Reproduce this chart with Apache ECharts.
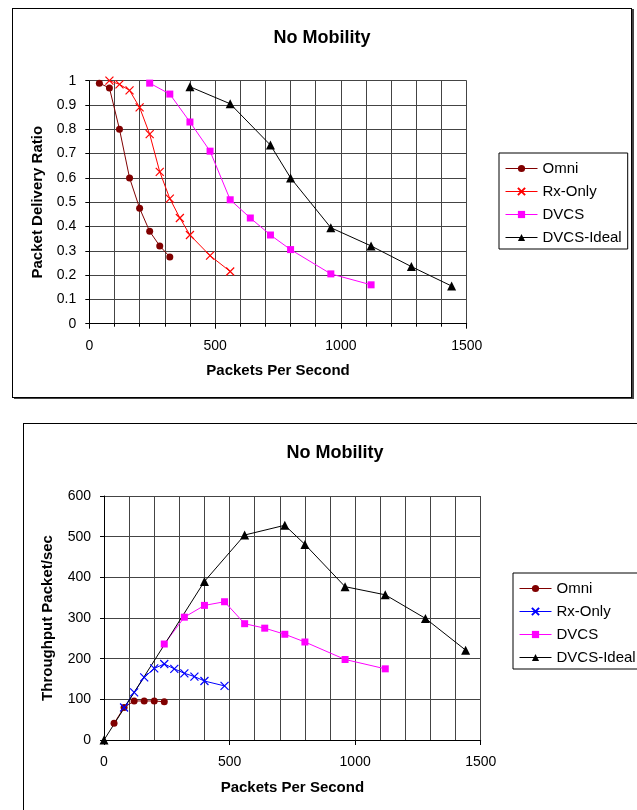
<!DOCTYPE html>
<html>
<head>
<meta charset="utf-8">
<title>No Mobility</title>
<script src="https://cdn.jsdelivr.net/npm/echarts@6/dist/echarts.min.js"></script>
<style>
html, body {
  margin: 0;
  padding: 0;
  width: 637px;
  height: 810px;
  overflow: hidden;
  background: #fff;
}
.com-container {
  position: absolute;
  box-sizing: border-box;
  border: 1px solid #000;
  background: #fff;
}
.com-chart {
  width: 100%;
  height: 100%;
}
#box_pdr {
  left: 12px;
  top: 8px;
  width: 620px;
  height: 390px;
  box-shadow: 2px 1px 0 #444;
}
#box_thr {
  left: 23px;
  top: 423px;
  width: 624px;
  height: 400px;
}
</style>
</head>
<body>
<div class="com-container" id="box_pdr"><div class="com-chart" id="pdr_ref"></div></div>
<div class="com-container" id="box_thr"><div class="com-chart" id="thr_ref"></div></div>

<script>
// packet delivery ratio (top chart)
const omniPdrX = [40, 80, 120, 160, 200, 240, 280, 320]
const omniPdr = [0.99, 0.97, 0.80, 0.60, 0.475, 0.38, 0.32, 0.275]
const rxPdrX = [80, 120, 160, 200, 240, 280, 320, 360, 400, 480, 560]
const rxPdr = [1.0, 0.985, 0.96, 0.89, 0.78, 0.625, 0.515, 0.435, 0.365, 0.28, 0.215]
const dvcsPdrX = [240, 320, 400, 480, 560, 640, 720, 800, 960, 1120]
const dvcsPdr = [0.99, 0.945, 0.83, 0.71, 0.51, 0.435, 0.365, 0.305, 0.205, 0.16]
const idealPdrX = [400, 560, 720, 800, 960, 1120, 1280, 1440]
const idealPdr = [0.975, 0.905, 0.735, 0.60, 0.395, 0.32, 0.235, 0.155]

// throughput (bottom chart)
const omniThrX = [40, 80, 120, 160, 200, 240]
const omniThr = [41, 80, 96, 96, 96, 94]
const rxThrX = [80, 120, 160, 200, 240, 280, 320, 360, 400, 480]
const rxThr = [80, 117, 154, 176, 187, 175, 164, 156, 145, 133]
const dvcsThrX = [240, 320, 400, 480, 560, 640, 720, 800, 960, 1120]
const dvcsThr = [236, 302, 331, 340, 286, 275, 260, 241, 198, 175]
const idealThrX = [0, 400, 560, 720, 800, 960, 1120, 1280, 1440]
const idealThr = [0, 390, 504, 528, 481, 377, 357, 299, 221]

const seriesNames = ['Omni', 'Rx-Only', 'DVCS', 'DVCS-Ideal']
const FONT = '"Liberation Sans", Arial, sans-serif'
const CROSS = 'path://M0,0L10,10M0,10L10,0'

function lineSeries (name, xs, ys, color, symbol, size) {
  return {
    name: name,
    type: 'line',
    data: xs.map((x, i) => [x, ys[i]]),
    symbol: symbol,
    symbolSize: size,
    showSymbol: true,
    lineStyle: { color: color, width: 1 },
    itemStyle: {
      color: color,
      borderColor: color,
      borderWidth: symbol === CROSS ? 1.2 : 0
    },
    emphasis: { disabled: true }
  }
}

function buildOption (cfg) {
  return {
    animation: false,
    textStyle: { fontFamily: FONT },
    title: {
      text: 'No Mobility',
      left: cfg.titleLeft,
      top: 15,
      textStyle: { fontSize: 18, fontWeight: 'bold', color: '#000', fontFamily: FONT }
    },
    legend: {
      data: seriesNames,
      orient: 'vertical',
      left: cfg.legendLeft,
      top: cfg.legendTop,
      padding: [8, 6, 4, 6],
      borderColor: '#000',
      borderWidth: 1,
      itemWidth: 32,
      itemHeight: 9,
      itemGap: 8,
      itemTextGap: 3,
      lineStyle: { width: 1 },
      textStyle: { fontSize: 15, color: '#000', fontFamily: FONT }
    },
    grid: cfg.grid,
    xAxis: {
      type: 'value',
      min: 0,
      max: 1500,
      interval: 500,
      name: 'Packets Per Second',
      nameLocation: 'middle',
      nameGap: 40,
      nameTextStyle: { fontSize: 15, fontWeight: 'bold', color: '#000', fontFamily: FONT },
      axisLine: { show: true, lineStyle: { color: '#000', width: 1 } },
      axisTick: { show: true, length: 5, lineStyle: { color: '#000' } },
      minorTick: { show: cfg.minorTicks, splitNumber: 5, length: 3, lineStyle: { color: '#000' } },
      axisLabel: {
        fontSize: 14,
        color: '#000',
        margin: 15,
        fontFamily: FONT,
        formatter: v => String(v)
      },
      splitLine: { show: true, lineStyle: { color: '#444', width: 1 } },
      minorSplitLine: { show: true, lineStyle: { color: '#444', width: 1 } }
    },
    yAxis: {
      type: 'value',
      min: 0,
      max: cfg.yMax,
      interval: cfg.yInterval,
      name: cfg.yName,
      nameLocation: 'middle',
      nameGap: cfg.yNameGap,
      nameTextStyle: { fontSize: 15, fontWeight: 'bold', color: '#000', fontFamily: FONT },
      axisLine: { show: true, lineStyle: { color: '#000', width: 1 } },
      axisTick: { show: true, length: 4, lineStyle: { color: '#000' } },
      axisLabel: {
        fontSize: 14,
        color: '#000',
        margin: 13,
        fontFamily: FONT,
        formatter: cfg.yFormatter
      },
      splitLine: { show: true, lineStyle: { color: '#444', width: 1 } }
    },
    series: cfg.series
  }
}

// 上图：投递率
const pdrChart = echarts.init(document.getElementById('pdr_ref'), null, { renderer: 'canvas' })
pdrChart.setOption(buildOption({
  titleLeft: 'center',
  legendLeft: 486,
  legendTop: 144,
  grid: { left: 76.3, top: 71.7, width: 377.4, height: 243 },
  minorTicks: true,
  yMax: 1,
  yInterval: 0.1,
  yName: 'Packet Delivery Ratio',
  yNameGap: 44,
  yFormatter: v => String(+v.toFixed(1)),
  series: [
    lineSeries('Omni', omniPdrX, omniPdr, '#800000', 'circle', 7),
    lineSeries('Rx-Only', rxPdrX, rxPdr, '#ff0000', CROSS, 8),
    lineSeries('DVCS', dvcsPdrX, dvcsPdr, '#ff00ff', 'rect', 7),
    lineSeries('DVCS-Ideal', idealPdrX, idealPdr, '#000000', 'triangle', 9)
  ]
}))

// 下图：吞吐量
const thrChart = echarts.init(document.getElementById('thr_ref'), null, { renderer: 'canvas' })
thrChart.setOption(buildOption({
  titleLeft: 'center',
  legendLeft: 489,
  legendTop: 149,
  grid: { left: 80, top: 72, width: 376.7, height: 244 },
  minorTicks: false,
  yMax: 600,
  yInterval: 100,
  yName: 'Throughput Packet/sec',
  yNameGap: 49,
  yFormatter: v => String(v),
  series: [
    lineSeries('Omni', omniThrX, omniThr, '#800000', 'circle', 7),
    lineSeries('Rx-Only', rxThrX, rxThr, '#0000ff', CROSS, 8),
    lineSeries('DVCS', dvcsThrX, dvcsThr, '#ff00ff', 'rect', 7),
    lineSeries('DVCS-Ideal', idealThrX, idealThr, '#000000', 'triangle', 9)
  ]
}))
</script>
</body>
</html>
